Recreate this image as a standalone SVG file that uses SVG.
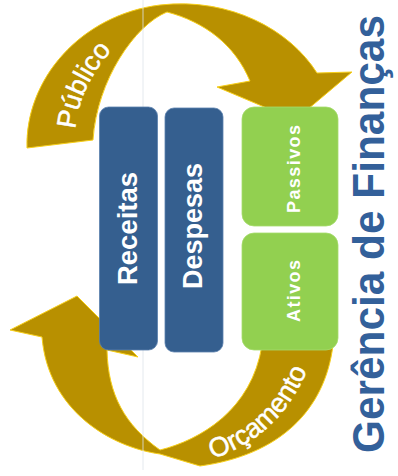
<svg xmlns="http://www.w3.org/2000/svg" width="398" height="476" viewBox="0 0 398 476">
<defs>
<style>
.arrow{fill:#b89000;stroke:#f7cf1a;stroke-width:1;stroke-linejoin:miter}
.blue{fill:#355f8f;stroke:#5a80ad;stroke-width:0.8}
.green{fill:#92d050;stroke:#a6dc6c;stroke-width:0.8}
.lbl{font-family:"Liberation Sans",Arial,sans-serif;font-weight:bold;fill:#ffffff}
.band{font-family:"Liberation Sans",Arial,sans-serif;fill:#ffffff;font-size:27px;stroke:#ffffff;stroke-width:0.5}
.title{font-family:"Liberation Sans",Arial,sans-serif;font-weight:bold;fill:#33609a;font-size:45px}
</style>
<path id="pubPath" d="M75,152 C72,110 88,70 128,34"/>
<path id="orcPath" d="M192,464 C245,454 294,420 314,350"/>
</defs>
<rect width="398" height="476" fill="#ffffff"/>
<g id="connectors">
<path id="arrow-publico" class="arrow" d="M27,148 C25,80 80,15 160,5 C230,-3 290,30 317,73 L352,72 L295,120 L217,87 L250,81 C235,45 205,22 167,12 C135,25 97,80 93,140 Z"/>
<path id="arrow-orcamento" class="arrow" d="M10,330 L77,296 L138,357 L107,350 C108,395 125,425 160,450 C200,440 252,410 262,345 L333,345 C325,410 280,455 200,466 L160,454 C110,447 48,410 42,337 Z"/>
<text class="band"><textPath href="#pubPath" startOffset="50%" text-anchor="middle">Público</textPath></text>
<text class="band"><textPath href="#orcPath" startOffset="50%" text-anchor="middle">Orçamento</textPath></text>
</g>
<line x1="143" y1="0" x2="143" y2="470" stroke="#dde3ea" stroke-width="0.8"/>
<g id="receitas">
<rect class="blue" x="99.5" y="107" width="58" height="243" rx="9"/>
<text class="lbl" font-size="27" transform="translate(137,285) rotate(-90)" textLength="113" lengthAdjust="spacingAndGlyphs">Receitas</text>
</g>
<g id="despesas">
<rect class="blue" x="165" y="108" width="58" height="244" rx="9"/>
<text class="lbl" font-size="27" transform="translate(202,289) rotate(-90)" textLength="126" lengthAdjust="spacingAndGlyphs">Despesas</text>
</g>
<g id="passivos">
<rect class="green" x="242" y="107" width="96" height="119" rx="12"/>
<text class="lbl" font-size="18" transform="translate(300,213) rotate(-90)" textLength="88" lengthAdjust="spacing">Passivos</text>
</g>
<g id="ativos">
<rect class="green" x="242" y="233" width="96" height="117" rx="12"/>
<text class="lbl" font-size="18" transform="translate(300,322) rotate(-90)" textLength="62" lengthAdjust="spacing">Ativos</text>
</g>
<g id="title">
<text class="title" transform="translate(384,453) rotate(-90)" textLength="438" lengthAdjust="spacingAndGlyphs">Gerência de Finanças</text>
</g>
</svg>
